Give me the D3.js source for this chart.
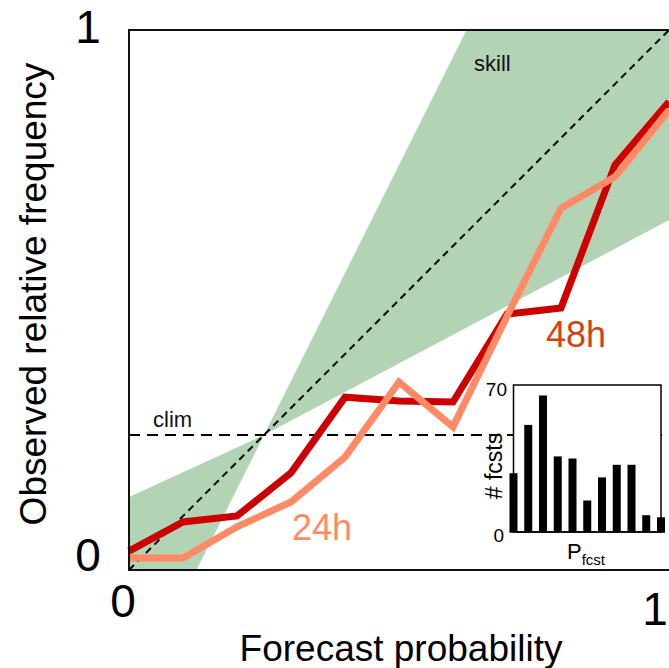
<!DOCTYPE html>
<html>
<head>
<meta charset="utf-8">
<script src="https://cdn.jsdelivr.net/npm/d3@7"></script>
<style>
  body { margin: 0; background: #fff; }
  svg { display: block; font-family: Arial, "Liberation Sans", sans-serif; }
</style>
</head>
<body>
<div id="chart"></div>
<script>
// reliability data, forecast probability bins
const probs = [0, 0.1, 0.2, 0.3, 0.4, 0.5, 0.6, 0.7, 0.8, 0.9, 1.0];
const obs48 = [0.035, 0.089, 0.10, 0.18, 0.32, 0.313, 0.311, 0.474, 0.485, 0.75, 0.867];
const obs24 = [0.022, 0.022, 0.08, 0.126, 0.209, 0.348, 0.265, 0.47, 0.67, 0.728, 0.852];
const clim = 0.25;

// skill area (two triangles meeting at clim)
const skillLow = [[0, 0], [0, 0.135], [0.25, 0.25], [0.125, 0]];
const skillHigh = [[0.25, 0.25], [0.625, 1], [1, 1], [1, 0.648]];

// histogram of forecasts per bin
const counts = [28, 51, 65, 36, 35, 15, 26, 32, 32, 8, 7];
const countMax = 70;

const width = 669, height = 668;
const svg = d3.select('#chart').append('svg')
    .attr('width', width)
    .attr('height', height);

const x = d3.scaleLinear().domain([0, 1]).range([129, 669]);
const y = d3.scaleLinear().domain([0, 1]).range([570, 30]);

const area = d3.line().x(d => x(d[0])).y(d => y(d[1]));

svg.append('g').selectAll('path')
    .data([skillLow, skillHigh])
    .join('path')
    .attr('d', d => area(d) + 'Z')
    .attr('fill', '#b3d3b5');

// perfect reliability diagonal
svg.append('line')
    .attr('x1', x(0)).attr('y1', y(0))
    .attr('x2', x(1)).attr('y2', y(1))
    .attr('stroke', '#000')
    .attr('stroke-width', 2)
    .attr('stroke-dasharray', '7,5');

// climatology
svg.append('line')
    .attr('x1', x(0)).attr('y1', y(clim))
    .attr('x2', x(1)).attr('y2', y(clim))
    .attr('stroke', '#000')
    .attr('stroke-width', 2)
    .attr('stroke-dasharray', '11,7');

const line = d3.line()
    .x((d, i) => x(probs[i]))
    .y(d => y(d));

svg.append('path')
    .attr('d', line(obs48))
    .attr('fill', 'none')
    .attr('stroke', '#cc0000')
    .attr('stroke-width', 7);

svg.append('path')
    .attr('d', line(obs24))
    .attr('fill', 'none')
    .attr('stroke', '#ff8a65')
    .attr('stroke-width', 7);

// frame (left, top, bottom)
svg.append('path')
    .attr('d', `M${x(1) + 1},${y(1)}H${x(0)}V${y(0)}H${x(1) + 1}`)
    .attr('fill', 'none')
    .attr('stroke', '#111')
    .attr('stroke-width', 2);

// labels in plot
svg.append('text').text('skill')
    .attr('x', 474).attr('y', 71)
    .attr('font-size', 22).attr('fill', '#111');
svg.append('text').text('clim')
    .attr('x', 153).attr('y', 427)
    .attr('font-size', 22).attr('fill', '#111');
svg.append('text').text('48h')
    .attr('x', 576).attr('y', 347)
    .attr('text-anchor', 'middle')
    .attr('font-size', 36).attr('fill', '#d0440f');
svg.append('text').text('24h')
    .attr('x', 322).attr('y', 540)
    .attr('text-anchor', 'middle')
    .attr('font-size', 36).attr('fill', '#ff8a65');

// tick labels
const tickFont = 46;
svg.append('text').text('1')
    .attr('x', 88).attr('y', y(1) + 13)
    .attr('text-anchor', 'middle').attr('font-size', tickFont);
svg.append('text').text('0')
    .attr('x', 88).attr('y', y(0) + 1)
    .attr('text-anchor', 'middle').attr('font-size', tickFont);
svg.append('text').text('0')
    .attr('x', x(0) - 6).attr('y', 617)
    .attr('text-anchor', 'middle').attr('font-size', tickFont);
svg.append('text').text('1')
    .attr('x', x(1) - 14).attr('y', 625)
    .attr('text-anchor', 'middle').attr('font-size', tickFont);

// axis titles
svg.append('text').text('Forecast probability')
    .attr('x', 401).attr('y', 661)
    .attr('text-anchor', 'middle').attr('font-size', 37);
svg.append('text').text('Observed relative frequency')
    .attr('transform', 'translate(46,294) rotate(-90)')
    .attr('text-anchor', 'middle').attr('font-size', 37);

// inset histogram
const hx = d3.scaleLinear().domain([0, 1]).range([513.5, 661]);
const hy = d3.scaleLinear().domain([0, countMax]).range([532, 385]);
const inset = svg.append('g');

inset.append('rect')
    .attr('x', hx(0)).attr('y', hy(countMax))
    .attr('width', hx(1) - hx(0)).attr('height', hy(0) - hy(countMax))
    .attr('fill', '#fff')
    .attr('stroke', '#000')
    .attr('stroke-width', 1.5);

inset.selectAll('rect.bar')
    .data(counts)
    .join('rect')
    .attr('class', 'bar')
    .attr('x', (d, i) => hx(probs[i]) - 4)
    .attr('y', d => hy(d))
    .attr('width', 8)
    .attr('height', d => hy(0) - hy(d))
    .attr('fill', '#000');

inset.append('line')
    .attr('x1', hx(0) - 4).attr('x2', hx(1) + 4)
    .attr('y1', hy(0)).attr('y2', hy(0))
    .attr('stroke', '#000').attr('stroke-width', 1.5);

inset.append('text').text(countMax)
    .attr('x', 507).attr('y', hy(countMax) + 11)
    .attr('text-anchor', 'end').attr('font-size', 19);
inset.append('text').text('0')
    .attr('x', 504).attr('y', hy(0) + 10)
    .attr('text-anchor', 'end').attr('font-size', 19);
inset.append('text').text('# fcsts')
    .attr('transform', 'translate(502,466) rotate(-90)')
    .attr('text-anchor', 'middle').attr('font-size', 23);

const pl = inset.append('text')
    .attr('x', 567).attr('y', 559)
    .attr('font-size', 22);
pl.append('tspan').text('P');
pl.append('tspan').text('fcst')
    .attr('font-size', 15)
    .attr('dy', 6);
</script>
</body>
</html>
